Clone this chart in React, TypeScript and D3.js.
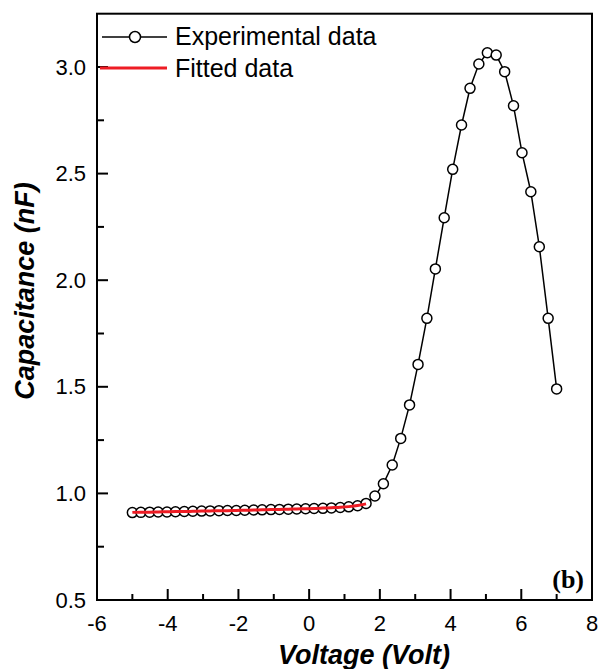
import React from "react";
import * as d3 from "d3";

// Voltage (V) of each measured point
const voltage = [
  -5.0, -4.76, -4.51, -4.27, -4.02, -3.78, -3.53, -3.29, -3.04, -2.8,
  -2.55, -2.31, -2.06, -1.82, -1.57, -1.33, -1.08, -0.84, -0.59, -0.35,
  -0.1, 0.14, 0.39, 0.63, 0.88, 1.12, 1.37, 1.61, 1.86, 2.1,
  2.35, 2.59, 2.84, 3.08, 3.33, 3.57, 3.82, 4.06, 4.31, 4.55,
  4.8, 5.04, 5.29, 5.53, 5.78, 6.02, 6.27, 6.51, 6.76, 7.0,
];

// Capacitance (nF), experimental
const capacitance = [
  0.91, 0.911, 0.912, 0.913, 0.913, 0.914, 0.915, 0.916, 0.917, 0.918,
  0.919, 0.92, 0.92, 0.921, 0.922, 0.923, 0.924, 0.925, 0.926, 0.927,
  0.928, 0.929, 0.93, 0.932, 0.934, 0.937, 0.942, 0.953, 0.988, 1.045,
  1.133, 1.258, 1.415, 1.605, 1.821, 2.053, 2.293, 2.52, 2.728, 2.9,
  3.014, 3.067, 3.056, 2.978, 2.818, 2.598, 2.415, 2.157, 1.821, 1.49,
];

// Fitted curve (only over the flat region)
const fitVoltage = voltage.slice(0, 28);
const fitCapacitance = [
  0.911, 0.912, 0.912, 0.913, 0.914, 0.915, 0.915, 0.916, 0.917, 0.918,
  0.919, 0.919, 0.92, 0.921, 0.922, 0.923, 0.924, 0.925, 0.926, 0.927,
  0.928, 0.929, 0.931, 0.933, 0.935, 0.938, 0.943, 0.951,
];

const xTicks = [-6, -4, -2, 0, 2, 4, 6, 8];
const xMinor = [-5, -3, -1, 1, 3, 5, 7];
const yTicks = [0.5, 1.0, 1.5, 2.0, 2.5, 3.0];
const yMinor = [0.75, 1.25, 1.75, 2.25, 2.75];

const W = 600;
const H = 669;
const left = 97;
const right = 592;
const top = 13.7;
const bottom = 600;

const sans = "'Liberation Sans', Arial, sans-serif";

export default function App() {
  const x = d3.scaleLinear().domain([-6, 8]).range([left, right]);
  const y = d3.scaleLinear().domain([0.5, 3.25]).range([bottom, top]);

  const expLine = d3
    .line<number>()
    .x((_, i) => x(voltage[i]))
    .y((d) => y(d))(capacitance) as string;

  const fitLine = d3
    .line<number>()
    .x((_, i) => x(fitVoltage[i]))
    .y((d) => y(d))
    .curve(d3.curveMonotoneX)(fitCapacitance) as string;

  return (
    <div style={{ position: "fixed", left: 0, top: 0 }}>
      <svg width={W} height={H} style={{ display: "block", background: "#fff" }}>
        {/* frame */}
        <rect
          x={left}
          y={top}
          width={right - left}
          height={bottom - top}
          fill="none"
          stroke="#000"
          strokeWidth={2}
        />

        {/* x ticks (inward) */}
        {xTicks.map((t) => (
          <g key={"xt" + t}>
            <line x1={x(t)} x2={x(t)} y1={bottom} y2={bottom - 11} stroke="#000" strokeWidth={2} />
            <text
              x={x(t)}
              y={631}
              textAnchor="middle"
              fontFamily={sans}
              fontSize={22}
              fill="#000"
            >
              {t}
            </text>
          </g>
        ))}
        {xMinor.map((t) => (
          <line key={"xm" + t} x1={x(t)} x2={x(t)} y1={bottom} y2={bottom - 6} stroke="#000" strokeWidth={2} />
        ))}

        {/* y ticks (inward) */}
        {yTicks.map((t) => (
          <g key={"yt" + t}>
            <line x1={left} x2={left + 11} y1={y(t)} y2={y(t)} stroke="#000" strokeWidth={2} />
            <text
              x={86}
              y={y(t) + 7.5}
              textAnchor="end"
              fontFamily={sans}
              fontSize={22}
              fill="#000"
            >
              {t.toFixed(1)}
            </text>
          </g>
        ))}
        {yMinor.map((t) => (
          <line key={"ym" + t} x1={left} x2={left + 7} y1={y(t)} y2={y(t)} stroke="#000" strokeWidth={2} />
        ))}

        {/* experimental data */}
        <path d={expLine} fill="none" stroke="#000" strokeWidth={1.5} />
        {capacitance.map((c, i) => (
          <circle
            key={"p" + i}
            cx={x(voltage[i])}
            cy={y(c)}
            r={5}
            fill="#fff"
            stroke="#000"
            strokeWidth={1.5}
          />
        ))}

        {/* fitted data */}
        <path d={fitLine} fill="none" stroke="#ee1c24" strokeWidth={3} />

        {/* legend */}
        <line x1={102} x2={167} y1={37} y2={37} stroke="#000" strokeWidth={1.5} />
        <circle cx={135} cy={37} r={5.5} fill="#fff" stroke="#000" strokeWidth={1.5} />
        <text x={175} y={45} fontFamily={sans} fontSize={25} fill="#000">
          Experimental data
        </text>
        <line x1={100} x2={167} y1={68} y2={68} stroke="#ee1c24" strokeWidth={3} />
        <text x={175} y={77} fontFamily={sans} fontSize={25} fill="#000">
          Fitted data
        </text>

        {/* panel label */}
        <text
          x={584}
          y={588}
          textAnchor="end"
          fontFamily="'Liberation Serif', 'Times New Roman', serif"
          fontWeight="bold"
          fontSize={26}
          fill="#000"
        >
          (b)
        </text>

        {/* axis titles */}
        <text
          x={364}
          y={664}
          textAnchor="middle"
          fontFamily={sans}
          fontWeight="bold"
          fontStyle="italic"
          fontSize={27}
          fill="#000"
        >
          Voltage (Volt)
        </text>
        <text
          transform="translate(34,291) rotate(-90)"
          textAnchor="middle"
          fontFamily={sans}
          fontWeight="bold"
          fontStyle="italic"
          fontSize={27}
          fill="#000"
        >
          Capacitance (nF)
        </text>
      </svg>
    </div>
  );
}
